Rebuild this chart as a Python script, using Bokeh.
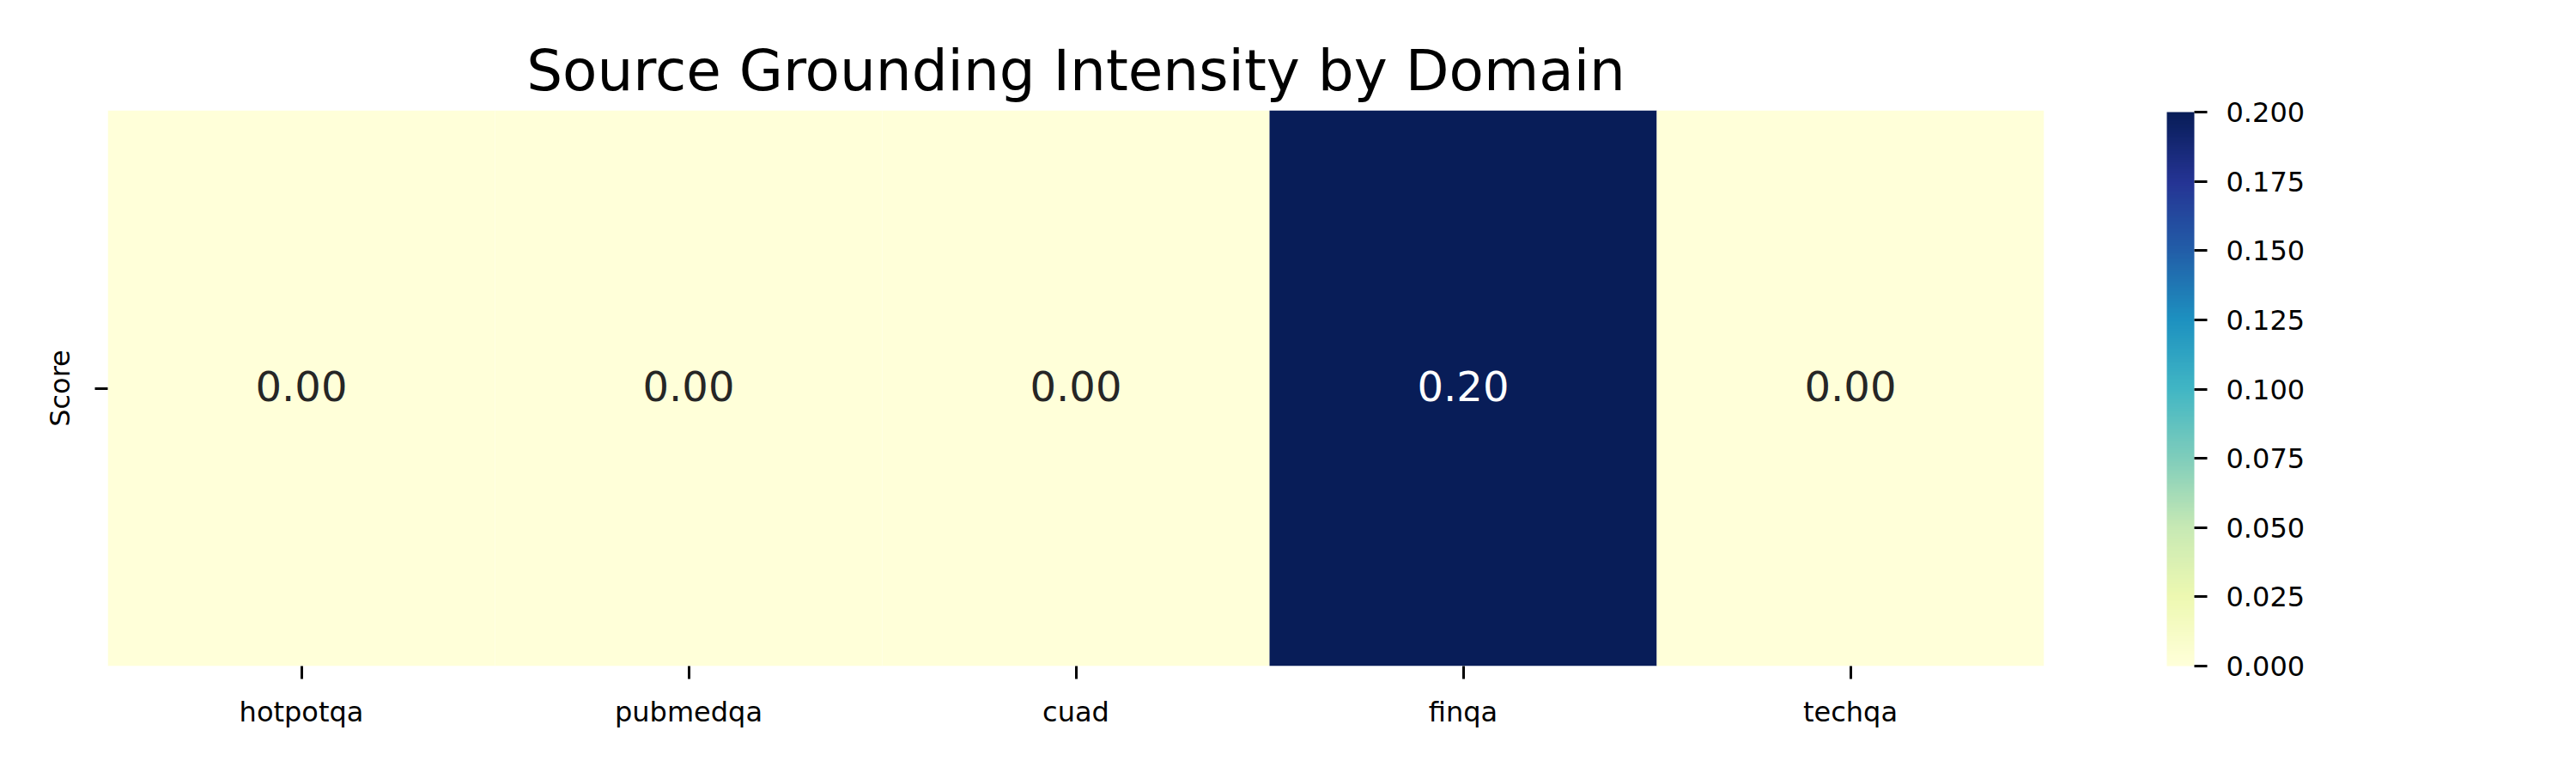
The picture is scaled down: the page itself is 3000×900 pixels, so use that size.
import numpy as np
from bokeh.plotting import figure
from bokeh.models import (ColumnDataSource, LinearColorMapper, ColorBar, FixedTicker,
                          PrintfTickFormatter, FactorRange)
from bokeh.transform import transform
from bokeh.core.properties import value
from bokeh.embed import file_html
from bokeh.resources import INLINE

# ---- data ----
domains = ["hotpotqa", "pubmedqa", "cuad", "finqa", "techqa"]
row_label = ["Score"]
scores = [0.00, 0.00, 0.00, 0.20, 0.00]
cbar_ticks = [0.0, 0.025, 0.05, 0.075, 0.1, 0.125, 0.15, 0.175, 0.2]
title_text = "Source Grounding Intensity by Domain"

# ---- YlGnBu colormap (256 steps interpolated from ColorBrewer 9) ----
base = ['#ffffd9', '#edf8b1', '#c7e9b4', '#7fcdbb', '#41b6c4',
        '#1d91c0', '#225ea8', '#253494', '#081d58']
rgb = np.array([[int(c[i:i + 2], 16) for i in (1, 3, 5)] for c in base], dtype=float)
pos = np.linspace(0, 1, len(base))
t = np.linspace(0, 1, 256)
pal = []
for tt in t:
    r = np.interp(tt, pos, rgb[:, 0]); g = np.interp(tt, pos, rgb[:, 1]); b = np.interp(tt, pos, rgb[:, 2])
    pal.append("#%02x%02x%02x" % (int(round(r)), int(round(g)), int(round(b))))

vmin, vmax = 0.0, 0.2
mapper = LinearColorMapper(palette=pal, low=vmin, high=vmax)

text_colors = ["#ffffff" if (v - vmin) / (vmax - vmin) > 0.6 else "#262626" for v in scores]
src = ColumnDataSource(dict(
    x=domains, y=row_label * len(domains), v=scores,
    label=["%.2f" % v for v in scores], tc=text_colors))

FONT = "DejaVu Sans"
SMALL = "32px"

p = figure(width=2984, height=884, output_backend="svg", toolbar_location=None,
           x_range=FactorRange(*domains, range_padding=0),
           y_range=FactorRange(*row_label, range_padding=0),
           min_border_left=125, min_border_right=604, min_border_top=128, min_border_bottom=109,
           title=title_text)
p.outline_line_color = None
p.background_fill_color = "white"
p.grid.visible = False

p.title.text_font = FONT
p.title.text_font_size = "66px"
p.title.text_font_style = "normal"
p.title.align = "center"
p.title.text_color = "black"
p.title.standoff = 16

p.rect(x="x", y="y", width=1, height=1, source=src,
       fill_color=transform("v", mapper), line_color=None)
p.text(x="x", y="y", text="label", source=src, text_align="center", text_baseline="middle",
       text_font=value(FONT), text_font_size="48px", text_color="tc", y_offset=-3)

for ax in (p.xaxis[0], p.yaxis[0]):
    ax.axis_line_color = None
    ax.major_tick_line_color = "black"
    ax.major_tick_line_width = 3
    ax.major_tick_out = 15
    ax.major_tick_in = 0
    ax.minor_tick_line_color = None
    ax.major_label_text_font = FONT
    ax.major_label_text_font_size = SMALL
    ax.major_label_text_color = "black"

p.xaxis[0].major_label_standoff = 19
p.yaxis[0].major_label_orientation = "vertical"
p.yaxis[0].major_label_standoff = 22

cb = ColorBar(color_mapper=mapper, ticker=FixedTicker(ticks=cbar_ticks),
              formatter=PrintfTickFormatter(format="%.3f"),
              width=32, height=645, padding=0, margin=0,
              location=(143, 0),
              major_tick_line_color="black", major_tick_line_width=3,
              major_tick_out=15, major_tick_in=0, minor_tick_line_color=None,
              bar_line_color=None, border_line_color=None, background_fill_color=None,
              major_label_text_font=FONT, major_label_text_font_size=SMALL,
              major_label_text_color="black", label_standoff=22)
p.add_layout(cb, "right")

open("out.html", "w").write(file_html(p, INLINE))
